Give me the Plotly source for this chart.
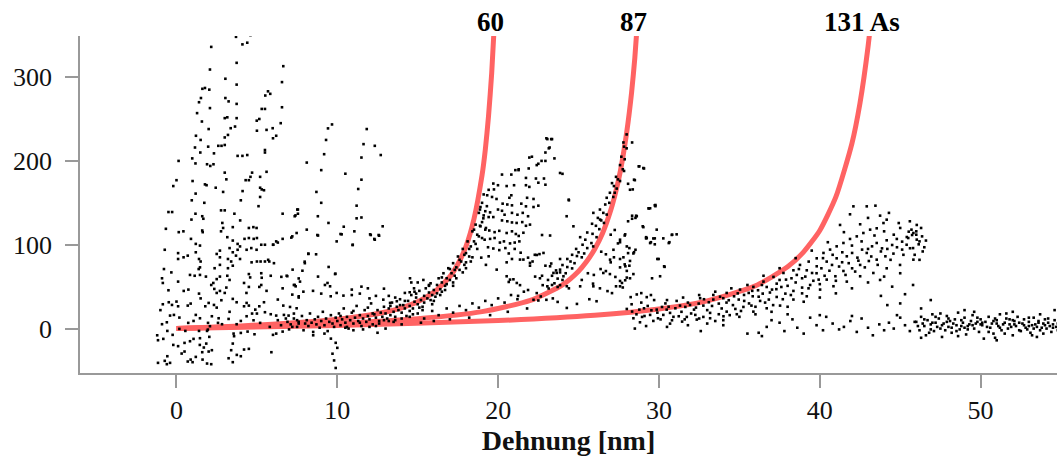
import plotly.graph_objects as go

# ---- fitted WLC curves ----
curve60_x = [0, 4, 8, 10, 12, 13, 14, 15, 16, 17, 17.5, 18, 18.5, 19, 19.2, 19.4, 19.6, 19.8]
curve60_y = [0, 3.2, 7.7, 11.1, 16.1, 19.8, 24.8, 31.9, 43.2, 62, 77, 98, 131, 183, 213, 253, 305, 376]
curve87_x = [0, 5, 10, 15, 19, 22, 24, 25, 25.5, 26, 26.5, 27, 27.3, 27.6, 28, 28.3, 28.5, 28.8]
curve87_y = [0, 2.7, 6.2, 11.8, 20.2, 33.6, 52.2, 68.5, 80, 94.7, 114, 141, 162, 188, 235, 282, 323, 403]
curve131_x = [0, 10, 20, 26, 30, 33, 36, 38, 39, 40, 41, 42, 42.5, 43, 43.3]
curve131_y = [0, 3.7, 9.5, 15.8, 23.3, 33, 51, 73.7, 91.5, 117, 157, 221, 269, 336, 390]
curve_labels = ["60", "87", "131 As"]
label_x = [19.5, 28.4, 42.6]

early_pts = [
 (3.7,348),(4.6,350),(4.4,341),(4.1,339),(2.16,336),(3.74,317),(6.64,313),(2.08,309),(3.04,298),(6.56,294),
 (3.74,291),(1.61,286),(1.77,287),(2.04,285),(5.69,283),(5.52,278),(5.83,280),(1.52,275),(1.40,270),(3.04,275),
 (3.24,271),(3.74,268),(6.56,264),(2.08,263),(5.3,262),(5.5,262),(1.28,257),(3.0,251),(3.16,252),(3.74,251),
 (5.15,250),(4.99,248),(1.58,247),(6.48,245),(2.0,238),(3.37,239),(3.64,241),(5.98,239),(5.6,237),(1.21,230),
 (5.0,236),(3.0,228),(3.2,231),(1.5,225),(6.2,230),(6.0,227),(2.6,218),(2.8,218),(3.0,219),(1.15,216),
 (1.97,217),(2.33,209),(1.48,210),(3.8,206),(4.1,206),(4.4,207),(5.5,210),(5.5,213),(0.13,200),(0.98,203),
 (1.18,197),(1.9,196),(2.1,194),(2.3,196),(3.0,186),(3.1,178),(4.7,186),(4.6,181),(5.2,181),(5.6,187),
 (4.3,177),(4.5,177),(0.0,177),(-0.2,170),(1.0,176),(1.77,172),(1.87,171),(2.44,168),(2.9,163),(4.11,164),
 (5.2,168),(5.3,166),(5.44,165),(1.19,161),(0.95,153),(1.73,150),(4.0,153),(5.2,157),(5.1,146),(2.77,141),
 (3.0,141),(3.6,137),(1.6,134),(1.67,131),(-0.5,139),(-0.27,139),(1.18,137),(2.85,126),(3.96,129),(6.6,137),
 (7.55,142),(7.4,135),(-0.66,119),(0.93,130),(2.77,116),(2.9,120),(3.5,121),(4.5,120),(4.78,121),(4.98,120),
 (1.63,115),(1.6,117),(0.14,115),(0.43,116),(7.2,110),(3.16,109),(3.5,105),(3.8,101),(4.23,107),(4.5,108),
 (4.8,107),(5.0,108),(0.9,107),(1.2,101),(1.46,99),(2.7,93),(2.5,89),(2.7,85),(3.3,96),(3.8,94),
 (3.95,98),(4.36,94),(4.65,96),(4.98,94),(5.27,100),(5.5,100),(6.0,100),(6.2,104),(6.6,107),(-0.73,94),
 (0.1,90),(0.1,83),(0.44,85),(0.7,87),(1.2,91),(1.4,83),(1.5,80),(3.2,83),(3.4,80),(3.5,91),
 (3.7,87),(3.95,83),(4.67,79),(5.0,80),(5.23,80),(5.5,80),(5.7,82),(-0.78,71),(-0.32,67),(1.46,73),
 (1.38,71),(2.37,72),(2.7,76),(3.2,72),(3.5,75),(0.84,64),(1.13,63),(1.46,64),(1.83,62),(2.5,59),
 (2.7,62),(3.16,63),(4.5,65),(5.27,66),(5.86,63),(6.85,63),(3.3,58),(4.58,61),(5.3,60.6),(7.6,59.8),
 (0.1,56),(-0.85,54.4),(-0.5,45.7),(0.45,44.9),(0.74,46.5),(1.4,41.7),(1.5,36),(2.16,52),(2.29,54.4),(2.35,47.3),
 (2.5,42.5),(2.7,44.9),(3.1,48.9),(3.0,42.5),(4.2,54.4),(4.5,49.7),(4.35,42.5),(5.15,49.7),(5.27,52),(6.6,48),
 (7.3,52),(7.6,38.5),(-0.85,29),(-0.48,31.4),(-0.28,28.2),(0.0,32.2),(0.1,26.6),(0.7,27.4),(0.88,29.8),(1.79,26.6),
 (2.0,30.6),(2.33,28.2),(2.79,33.8),(3.5,35.4),(3.74,31.4),(4.2,26.6),(4.36,30.6),(4.5,27.4),(4.9,22.6),(5.15,26.6),
 (5.44,31.4),(6.3,34.6),(6.64,27.4),(7.06,25.8),(7.47,24.2),(-0.4,15.5),(-0.16,16.3),(0.18,13.1),(1.2,16.3),(1.46,12.3),
 (2.2,14.7),(2.62,12.3),(3.24,11.5),(4.36,14.7),(4.7,17.9),(5.0,17.9),(5.5,19.5),(5.86,17.1),(6.2,15.5),(6.68,16.3),
 (6.97,15.5),(7.3,17.9),(-0.9,5.2),(-0.6,7.5),(0.73,6.8),(1.06,9.1),(1.96,6.8),(2.58,6.8),(2.83,5.2),(3.74,5.2),
 (4.0,9.1),(4.79,9.9),(5.2,6.8),(-1.15,-13.9),(-0.82,-12.3),(-0.57,-2.8),(-0.24,-7.5),(0.18,-0.4),(0.55,-2.8),(1.06,-12.3),
 (1.4,-2.8),(1.46,-11.5),(1.9,-2.8),(1.95,-1.2),(2.08,2.8),(2.04,-9.9),(3.55,-6),(3.58,-9.1),(4.0,-5.2),(4.42,-3.6),
 (4.85,-6.8),(6.0,-7.5),(6.2,-6),(6.6,-3.6),(-0.2,-19.5),(0.1,-21),(0.5,-17.1),(0.84,-15.1),(1.45,-19.5),(1.7,-22.6),
 (1.85,-17.9),(2.2,-25.8),(2.0,-27.4),(3.5,-17.9),(3.4,-25.8),(4.2,-25),(4.5,-24.2),(5.9,-28.2),(0.32,-29.8),(0.5,-27.4),
 (-1.15,-40.9),(-0.73,-38.5),(-0.57,-33),(-0.4,-40.9),(0.88,-37),(1.0,-40.1),(1.2,-33.8),(0.7,-39.3),(1.6,-28.2),(1.62,-37),
 (1.9,-41.7),(2.16,-42.5),(3.24,-35.4),(3.5,-40.1),(3.75,-31.4),(4.0,-33),(-0.6,-42.5),(6.5,4),(6.9,8),(7.2,2),
 (7.5,10),(6.8,12),(7.0,-1),(7.6,6),(5.8,2),(6.3,10),(-1.2,-8),(-1.0,22),(-0.9,60),(2.5,25),(3.3,20),(5.6,45),
]

mid_pts = [
 (9.67,243.5),(9.42,238.8),(9.30,225),(11.83,238),(11.63,220),(12.33,218),(12.70,207),(9.18,208),(11.5,204),(8.1,198),
 (9.0,189),(10.5,184.7),(11.5,177.6),(11.3,166.5),(8.7,163),(9.0,150),(11.2,146.6),(7.51,142),(7.35,134),(7.55,137),
 (8.79,134),(9.45,126),(11.2,131.5),(11.5,132.5),(12.82,122),(12.57,111.6),(12.33,106),(12.08,111.6),(10.4,121.5),(10.2,112.8),
 (8.1,118),(8.8,111),(7.14,108.5),(6.02,100),(6.3,102.6),(9.96,104),(10.95,99.6),(8.2,89),(7.98,78),(5.77,80),
 (6.06,78),(9.88,65.5),(6.89,62.5),(6.52,61.7),(7.68,56),(7.35,52),(9.39,54.4),(12.9,47.6),(7.47,114),(8.76,111.6),
 (10.27,112.4),(11.06,116),(12.04,112.4),(12.6,110.8),(12.3,106.9),(10.96,100),(8.2,89.4),(8.68,88.6),(7.97,79.8),(9.46,73.5),
 (7.22,70.3),(7.83,69),(9.86,65),(8.8,62),(7.41,50.4),(9.23,52),(9.55,50.4),(11.5,50),(11.9,48),(10.9,46.5),
 (7.89,44),(8.49,45),(7.2,40.5),(7.6,37),(9.0,41.7),(9.59,38.5),(9.96,42.5),(10.38,39.3),(10.9,40),(11.4,41.7),
 (12.0,36),(12.4,39),(12.86,34.5),(13.2,39),(13.6,37),(13.28,30.6),(13.7,32.6),(14.52,60),(14.6,55),(15.0,55),
 (15.35,58),(14.77,48),(15.7,52),(14.2,42.5),(14.5,43.3),(14.9,41.7),
 (9.9,-17),(10.0,-23),(9.7,-30),(9.8,-38),(9.9,-47),(9.6,-12),
]

band60_pts = [
 (7.1,5),(7.3,12),(7.5,2),(7.6,8),(7.8,15),(7.9,-2),(8.0,6),(8.1,10),(8.2,3),(8.3,18),(8.4,7),(8.5,-4),(8.6,11),
 (8.7,5),(8.8,14),(8.9,1),(9.0,9),(9.1,20),(9.2,4),(9.3,12),(9.4,-3),(9.5,8),(9.6,16),(9.7,6),(9.8,2),(9.9,13),
 (10.0,9),(10.1,18),(10.2,4),(10.3,11),(10.4,24),(10.5,7),(10.6,14),(10.7,0),(10.8,10),(10.9,19),(11.0,6),(11.1,13),
 (11.2,27),(11.3,9),(11.4,16),(11.5,3),(11.6,12),(11.7,22),(11.8,8),(11.9,15),(12.0,11),(12.1,30),(12.2,5),(12.3,17),
 (12.4,13),(12.5,22),(12.6,9),(12.7,19),(12.8,14),(12.9,26),(13.0,18),(13.1,12),(13.2,24),(13.3,16),(13.4,31),(13.5,20),
 (13.6,10),(13.7,26),(13.8,22),(13.9,35),(14.0,19),(14.1,28),(14.2,24),(14.3,15),(14.4,33),(14.5,27),(14.6,40),(14.7,24),
 (14.8,32),(14.9,37),(15.0,29),(15.1,45),(15.2,34),(15.3,26),(15.4,39),(15.5,48),(15.6,36),(15.7,43),(15.8,54),(15.9,40),
 (16.0,46),(16.1,38),(16.2,52),(16.3,60),(16.4,47),(16.5,55),(16.6,66),(16.7,51),(16.8,60),(16.9,72),(17.0,58),(17.1,66),
 (17.2,78),(17.3,63),(17.4,73),(17.5,86),(17.6,70),(17.7,80),(17.8,95),(17.9,76),(18.0,90),(18.1,104),(18.2,86),(18.3,98),
 (18.4,116),(18.5,104),(18.6,124),(18.7,112),(18.8,138),(18.9,122),(19.0,150),(19.1,135),(18.0,72),(18.3,80),(18.7,95),
 (19.0,108),(19.2,118),(19.3,146),(17.2,55),(16.5,44),(15.8,34),
 (14.5,14),(15.0,18),(15.4,12),(15.9,21),(16.3,16),(16.8,24),(17.2,19),(17.6,27),(18.0,22),(18.4,30),(18.8,25),(19.2,33),
 (19.6,28),(20.0,36),(20.4,31),(20.8,40),(21.2,35),(21.6,44),(13.5,8),(14.0,5),(15.2,7),(16.0,9),(17.0,11),(18.2,13),
 (19.5,16),(20.6,20),(21.8,24),(12.0,2),(11.0,-2),(10.5,1),(13.0,0),(8.5,-8),(9.2,-6),(12.5,-5),
 (10.2,15),(10.6,2),(11.0,21),(11.4,7),(11.9,25),(12.2,18),(12.6,6),(12.9,10),(13.3,27),(13.6,14),
 (13.9,28),(14.2,33),(14.5,21),(14.8,44),(15.1,25),(15.4,31),(15.7,51),(16.0,33),(16.2,42),(16.5,61),
 (16.7,46),(17.0,71),(17.2,51),(17.4,60),(17.6,82),(17.8,67),(18.0,79),(18.2,95),(18.4,85),(18.6,101),
 (18.8,110),(19.0,127),(19.1,160),(18.9,145),(18.5,118),(17.9,88),(17.3,70),(16.8,53),(16.4,40),(15.9,29),
 (15.3,22),(14.7,17),(14.0,12),(13.2,9),(12.4,3),(11.6,-1),
]

peak60_pts = [
 (23.06,226),(23.3,226),(23.15,215),(22.94,210),(21.94,204),(22.1,205),(22.7,200),(22.94,200),(23.5,203),(22.5,196.6),
 (21.07,189),(21.28,190),(21.9,191),(24.0,184.6),(20.24,183.7),(20.82,183.7),(21.73,179.7),(22.35,179),(22.85,179),(19.7,173),
 (19.99,171),(20.53,170),(20.99,171),(21.73,171),(21.94,169),(22.5,174),(22.94,171.6),(19.41,165.5),(19.74,166),(19.32,159),
 (19.62,157),(19.9,154.6),(20.7,156),(20.82,159),(21.8,156),(22.2,154.6),(24.4,153),(20.28,149),(20.57,148),(20.86,147),
 (21.44,149),(21.73,145.8),(22.2,145),(22.5,146.6),(18.87,142),(19.2,140),(19.5,138.6),(19.99,142),(20.24,140.5),(20.4,135.8),
 (20.86,138),(21.2,135.8),(21.53,138),(21.86,134),(19.08,131.5),(19.41,133),(19.7,133),(20.24,129),(20.57,128),(20.86,126.6),
 (21.15,126),(21.5,127),(21.73,122.6),(21.98,124),(18.87,122.6),(19.24,120),(19.45,117),(19.78,115),(20.07,116.6),(20.53,114),
 (20.86,116),(21.1,112.8),(21.28,110.5),(21.57,114.3),(19.16,106),(19.5,107),(19.78,108),(20.11,102.6),(20.36,104),(20.74,101.6),
 (21.03,102.6),(21.32,104),(22.73,111.6),(23.23,111),(19.37,97),(19.7,95.5),(20.07,93.6),(20.45,96),(20.66,89.6),(21.03,95),
 (21.4,90.5),(19.41,86.2),(18.95,84.6),(22.28,88),(22.57,88.8),(21.86,84.6),(20.86,83),(21.36,82.3),(21.98,75),(22.14,80),
 (20.53,79),(19.24,76),(22.3,62),(22.6,60),(20.95,58.8),(20.66,55.6),(23.85,83),(22.94,75),(23.3,77.6),(21.36,51.8),
 (22.73,63),(21.86,46),(23.06,50.4),(23.35,52),(23.7,49.6),(21.24,39),(21.57,82.3),(21.98,78.3),(22.4,87.8),(22.82,90.2),
 (23.23,74.3),(23.64,66.4),(24.06,62.4),(23.85,70.3),(23.44,66.4),(24.27,50.5),(21.16,54.4),(20.53,62.4),(20.74,58.4),(19.91,70.3),
 (23.0,227),(23.35,226),(23.2,216),(21.27,189),(22.4,195),(23.85,185.6),(24.39,153.8),(24.26,134),(24.68,122),
]

band87_pts = [
 (27.99,231.6),(27.79,222),(28.33,222),(27.83,217),(27.99,215),(27.66,205),(27.87,202),(27.58,195),(27.75,190),(27.83,188),
 (27.33,181),(27.45,178),(27.58,176),(27.08,173.5),(27.2,170),(27.37,167),(27.25,162),(26.95,162),(27.16,157),(26.75,156),
 (26.91,150),(26.66,148),(26.33,142),(26.54,138),(26.75,136),(26.2,132),(26.41,129),(26.58,126),(25.84,125),(26.08,122.6),
 (26.29,118.6),(25.54,114.6),(25.87,113),(26.12,109),(25.1,109),(25.42,106),(25.8,102),(25.25,100),(25.54,96),(25.91,98),
 (24.85,95),(25.0,91),(25.35,89.6),(24.6,88),(24.9,86.5),(25.2,85),(24.3,83),(24.5,80),(24.75,78),(24.0,75.8),
 (24.3,73.4),(24.6,71.8),(23.6,69.4),(23.85,67),(24.2,66),(23.35,63),(23.7,59.6),(24.0,58),(23.1,58),(23.5,54),
 (23.85,51.8),(22.77,51.8),(23.14,47.8),(22.4,42.3),(22.65,38.3),(23.0,34.3),(22.2,34.3),(22.5,33.5),
 (28.78,193.6),(29.07,191),(28.5,177),(28.08,172.7),(28.37,166),(29.78,146),(29.45,143.5),(28.54,132),(28.33,131),(29.03,121),
 (27.25,117.6),(27.87,111),(27.45,101.6),(27.0,112),(27.2,85),(29.2,109),(29.65,107.5),(29.74,100.5),(28.54,94),(28.41,89.6),
 (26.41,91.7),(26.7,88.6),(27.79,85),(28.2,80.7),(27.0,79),(27.58,73),(29.9,83),(26.37,71),(26.7,68.6),(25.58,66),
 (25.95,64),(26.95,65),(27.29,61.6),(28.0,60.8),(28.41,65),(25.2,58),(25.1,50.4),(25.9,53.6),(26.33,48),(24.4,48),
 (27.33,50.4),(27.7,54.4),(26.8,44.7),(27.08,42.3),(28.24,37.5),(28.62,40.7),(25.67,35),(26.12,32.6),(23.7,31.8),(23.4,36),
 (24.27,24.6),(24.9,29.4),(28.9,42.3),(29.24,37.5),(25.92,138),(26.34,130),(28.74,193.5),(29.03,191.5),(28.45,177.6),(28.2,165.6),
 (28.62,134),(29.36,143.4),(29.78,147.4),(29.86,118),(29.24,108),(29.45,102),(30.82,112),(30.61,102),(30.32,74.3),(30.07,62.4),
 (27.58,106),(27.17,94),(28.0,98),(26.96,82.2),(27.91,74.3),(26.54,66.3),(25.92,50.4),(27.58,50.4),
]

band131_pts = [
 (29.74,147),(29.37,143.4),(28.33,134.6),(28.58,134.6),(28.08,128),(28.99,122),(29.2,107.6),(29.5,103),(29.74,107.6),(30.27,107.6),
 (30.8,111.7),(31.1,112.4),(30.65,103),(27.9,112.4),(27.58,103),(28.16,96),(28.45,91.1),(28.08,90),(29.98,83),(27.58,83),
 (27.87,76.6),(28.16,75),(28.0,68.8),(30.35,73.6),(29.57,60),(27.58,56.8),(27.9,57.6),(28.2,60),(27.75,49),
 (28.0,23.4),(28.33,20.3),(28.78,22.6),(29.07,24.2),(29.53,21.8),(29.86,22.6),(30.19,25.8),(30.48,22.6),(30.69,18.7),(31.02,24.2),
 (31.31,27.4),(31.64,25.8),(31.93,28.2),(32.18,22.6),(32.47,29.8),(32.76,27.4),(33.1,31.4),(33.38,34.6),(33.72,29.8),(34.0,36.2),
 (34.34,33.8),(34.67,38.5),(34.96,34.6),(35.29,40.1),(35.58,42.5),(35.83,38.5),(36.16,45.7),(36.45,41.7),(36.7,49.6),(37.03,46.5),
 (37.32,53.6),(37.61,49.6),(37.9,58.4),(38.24,60),(38.57,64),(38.9,60),(39.19,69.5),(39.52,66.3),(39.81,74.3),(40.1,71.9),
 (40.43,79.9),(40.76,75.9),(41.05,83.8),(41.39,79.1),(41.68,86.2),(42.01,90.2),(42.34,84.6),(42.63,94.2),(42.92,90.2),(43.25,98.1),
 (43.54,102.1),(43.87,95.7),(44.16,105.3),(44.5,99.7),(44.79,106.9),(45.12,103.7),(45.41,109.2),(45.74,111.6),(46.03,106.1),(46.36,110),
 (28.41,12.3),(28.95,13.9),(29.45,16.3),(29.94,12.3),(30.27,16.3),(30.81,9.9),(31.23,14.7),(31.73,13.9),(32.26,16.3),(32.76,13.9),
 (33.18,18.7),(33.72,17.1),(34.21,20.2),(34.75,23.4),(35.25,25.8),(35.75,27.4),(36.29,33),(36.83,34.6),(37.32,37.7),(37.86,41.7),
 (38.36,44.9),(38.9,48.9),(39.4,52),(39.93,58.4),(40.43,58.4),(40.97,62.4),(41.47,68.7),(42.01,71.9),(42.51,75.9),(43.05,80.6),
 (43.54,82.2),(44.08,86.2),(44.58,89.4),(45.12,94.2),(45.61,95.8),(46.15,100.5),
 (28.82,7.5),(29.65,9.1),(30.69,5.9),(31.44,8.3),(32.35,10.7),(33.18,12.3),(34.01,14.7),(34.84,17.1),(35.87,20.2),(36.7,24.2),
 (37.53,27.4),(38.36,34.6),(39.19,38.5),(40.02,46.5),(40.85,50.5),(41.68,56),(42.51,62.4),(43.33,66.3),(44.16,71.9),(44.99,75.9),
 (45.82,82.2),
 (32.56,36.2),(33.38,40.1),(34.21,42.5),(35.04,46.5),(35.87,49.7),(36.5,56),(37.12,61.6),(37.74,66.3),(38.36,69.5),(38.77,75.9),
 (39.31,79.9),(39.81,83.8),(40.23,90.2),(40.64,94.2),(41.05,98.1),(41.47,102.1),(41.88,106.9),(42.3,110),(42.71,114),(43.13,118),
 (43.54,119.6),(43.96,125.9),(44.16,129.9),(43.75,134.7),(42.09,145.8),(42.92,145.8),(43.46,146.6),(41.88,136.3),(41.26,123.6),(42.51,124.4),
 (44.91,125.9),(45.53,115.6),(45.82,114),(46.03,123.6),(45.7,118),(46.0,112),(46.3,120),(46.6,105),(46.5,97),(45.9,88),
 (46.2,82),(45.5,108),(32.6,-3),(34.0,4),(35.5,-6),(36.4,-9),
 (28.3,29),(28.6,17),(28.9,31),(29.1,15),(29.3,27),(29.7,34),(29.9,19),(30.1,11),(30.4,30),(30.6,26),
 (30.9,14),(31.1,33),(31.4,20),(31.6,11),(31.8,31),(32.0,18),(32.3,25),(32.5,12),(32.8,35),(33.0,22),
 (33.3,27),(33.5,9),(33.8,38),(33.9,24),(34.2,31),(34.4,16),(34.6,28),(34.9,42),(35.1,21),(35.3,33),
 (35.6,30),(35.8,45),(36.0,26),(36.2,38),(36.4,52),(36.6,31),(36.9,43),(37.1,28),(37.3,47),(37.5,58),
 (37.7,35),(38.0,51),(38.2,40),(38.5,55),(38.7,71),(38.9,42),(39.1,62),(39.3,48),(39.6,57),(39.8,66),
 (40.0,53),(40.2,84),(40.3,63),(40.6,69),(40.8,88),(41.0,57),(41.2,74),(41.4,91),(41.6,64),(41.8,78),
 (42.0,99),(42.2,68),(42.4,81),(42.6,104),(42.8,73),(43.0,95),(43.2,86),(43.4,111),(43.6,76),(43.8,92),
 (44.0,116),(44.2,95),(44.4,82),(44.6,112),(44.8,97),(45.0,120),(45.2,88),(45.4,100),(45.6,128),(45.8,96),
 (46.0,116),(46.2,104),(46.4,92),(44.3,138),(43.0,132),(41.5,115),(40.5,103),(39.5,93),(38.5,84),(37.5,72),
 (36.5,63),(35.5,52),(34.5,48),(33.5,44),(32.5,40),(31.5,37),(30.5,34),(29.5,40),(37.0,20),(38.0,26),
 (39.0,32),(40.0,37),(41.0,42),(42.0,48),(43.0,55),(44.0,62),(45.0,66),(35.0,14),(36.0,17),(34.0,10),
 (33.0,6),(31.8,4),(30.5,2),(29.2,3),(28.5,0),
]

tail_pts = [
 (43.8,39),(44.5,50),(45.3,41),(46.9,34),(43.75,58),(45.0,30),(45.8,52),(46.3,24),(44.2,28),
 (36.2,-5),(36.7,2),(37.0,10),(37.5,7),(37.8,-3),(38.3,11),(38.6,1),(39.0,-6),(39.4,13),(39.8,4),
 (40.2,-2),(40.4,14),(40.8,6),(41.2,-1),(41.5,2),(41.9,9),(42.3,-4),(42.6,12),(43.0,1),(43.3,-8),
 (43.7,5),(44.0,-2),(44.3,7),(44.6,0),(45.0,13),(45.3,4),(45.6,-3),(45.9,8),(38.0,17),(40.0,16),
 (42.0,15),(44.8,16),
 (46.0,8),(46.2,-2),(46.3,14),(46.5,3),(46.6,-8),(46.7,10),(46.9,5),(47.0,17),(47.1,-3),(47.2,7),
 (47.4,12),(47.5,0),(47.6,-10),(47.7,6),(47.9,15),(48.0,2),(48.1,9),(48.2,-5),(48.4,11),(48.5,4),
 (48.6,19),(48.7,-1),(48.9,7),(49.0,13),(49.1,-7),(49.2,3),(49.4,9),(49.5,16),(49.6,0),(49.7,6),
 (49.9,-4),(50.0,11),(50.1,4),(50.2,-12),(50.3,8),(50.5,14),(50.6,1),(50.7,6),(50.8,-6),(51.0,10),
 (51.1,3),(51.2,17),(51.3,-2),(51.5,7),(51.6,12),(51.7,0),(51.8,5),(52.0,-8),(52.1,9),(52.2,3),
 (52.3,14),(52.5,-3),(52.6,6),(52.7,11),(52.8,1),(53.0,8),(53.1,-5),(53.2,4),(53.3,13),(53.5,2),
 (53.6,9),(53.7,-2),(53.9,6),(54.0,11),(54.1,0),(54.2,7),(54.4,-4),(54.5,5),(54.6,10),(54.7,2),
 (46.4,6),(47.3,2),(48.3,6),(49.3,5),(50.4,2),(51.4,5),(52.4,7),(53.4,5),(54.3,3),(47.8,-2),
 (49.8,8),(51.9,2),(53.8,1),(50.9,12),(48.8,3),(52.9,-1),(46.8,-5),(54.8,6),(49.0,22),(51.0,-14),
 (53.5,-10),(52.0,20),(54.6,22),
 (46.1,3),(46.5,11),(46.9,-1),(47.2,14),(47.6,4),(47.9,8),(48.2,1),(48.5,-3),(48.8,10),(49.2,-1),
 (49.5,4),(49.8,13),(50.1,7),(50.5,-4),(50.8,9),(51.2,1),(51.5,-6),(51.8,11),(52.1,5),(52.4,-2),
 (52.7,4),(53.0,13),(53.3,0),(53.6,7),(53.9,-6),(54.2,12),(54.5,1),(54.8,-2),(47.0,7),(48.0,12),
 (49.0,1),(50.0,5),(51.0,6),(52.0,10),(53.0,3),(54.0,4),(46.3,-11),(48.6,-9),(50.9,-11),(53.2,-8),
 (54.9,14),(47.5,18),(49.6,20),(51.6,18),(53.7,17),
]

x_ticks = [0, 10, 20, 30, 40, 50]
y_ticks = [0, 100, 200, 300]
x_title = "Dehnung [nm]"

SERIF = "Liberation Serif, Times New Roman, serif"
RED = "rgb(255,99,99)"

fig = go.Figure()
for cx, cy in [(curve60_x, curve60_y), (curve87_x, curve87_y), (curve131_x, curve131_y)]:
    fig.add_trace(go.Scatter(x=cx, y=cy, mode="lines",
                             line=dict(color=RED, width=5, shape="spline", smoothing=0.6),
                             hoverinfo="skip", showlegend=False))

for pts in [early_pts, mid_pts, band60_pts, peak60_pts, band87_pts, band131_pts, tail_pts]:
    xs = [p[0] for p in pts]
    ys = [p[1] for p in pts]
    fig.add_trace(go.Scatter(x=xs, y=ys, mode="markers",
                             marker=dict(symbol="square", size=2.6, color="black",
                                         line=dict(width=0)),
                             showlegend=False))

for lx, lt in zip(label_x, curve_labels):
    fig.add_annotation(x=lx, y=1, xref="x", yref="paper", text="<b>%s</b>" % lt,
                       showarrow=False, yanchor="bottom", yshift=-3,
                       font=dict(family=SERIF, size=27, color="black"))

axis_common = dict(showline=True, linecolor="#999999", linewidth=1.5,
                   ticks="outside", ticklen=13, tickcolor="#999999", tickwidth=1.5,
                   showgrid=False, zeroline=False,
                   tickfont=dict(family=SERIF, size=26, color="#111111"))

fig.update_layout(
    width=1057, height=463,
    margin=dict(l=80, r=0, t=36, b=90),
    plot_bgcolor="white", paper_bgcolor="white",
    xaxis=dict(range=[-6.0, 54.75], tickvals=x_ticks,
               title=dict(text="<b>%s</b>" % x_title, standoff=6,
                          font=dict(family=SERIF, size=28, color="#111111")),
               **axis_common),
    yaxis=dict(range=[-53, 349], tickvals=y_ticks, ticklabelstandoff=8, **axis_common),
)

fig.write_html("out.html")
